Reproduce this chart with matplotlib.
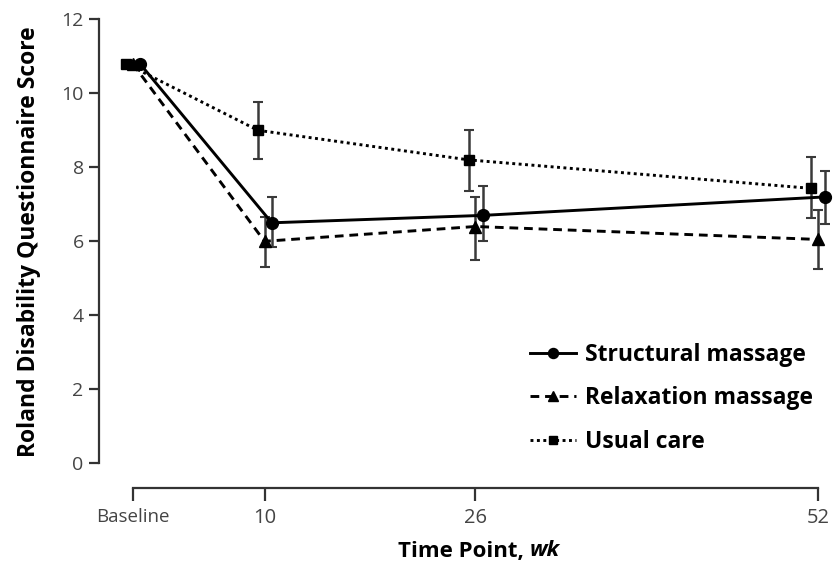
#Roland Disability Questionnaire score over time, three treatment groups.
import numpy as np
import matplotlib
matplotlib.use("Agg")
import matplotlib.pyplot as plt

#Data.
weeks = [0, 10, 26, 52]
week_labels = ["Baseline", "10", "26", "52"]

structural = [10.8, 6.5, 6.7, 7.2]
structural_low = [np.nan, 5.85, 6.0, 6.47]
structural_high = [np.nan, 7.2, 7.5, 7.9]

relaxation = [10.8, 6.0, 6.4, 6.05]
relaxation_low = [np.nan, 5.3, 5.5, 5.25]
relaxation_high = [np.nan, 6.67, 7.2, 6.85]

usual = [10.8, 9.0, 8.2, 7.43]
usual_low = [np.nan, 8.22, 7.36, 6.62]
usual_high = [np.nan, 9.77, 9.0, 8.29]

#Font setup.
plt.rcParams['font.family'] = ['Open Sans', 'DejaVu Sans']

fig = plt.figure(figsize=(8.33, 5.72), dpi=100)
ax = fig.add_axes([99/833, 1-463.3/572, 1-99/833, (463.3-19.3)/572])

#Series: values, errors, style, horizontal nudge (weeks) so bars don't overlap.
series = [
    ("Structural massage", structural, structural_low, structural_high, '-', 'o', 8.5, 0.55),
    ("Relaxation massage", relaxation, relaxation_low, relaxation_high, (0, (3, 2)), '^', 8.5, 0.0),
    ("Usual care", usual, usual_low, usual_high, (0, (1, 1.2)), 's', 7.5, -0.5),
]

for name, vals, low, high, ls, mk, ms, nudge in series:
    x = np.array(weeks, dtype=float) + nudge
    v = np.array(vals)
    lo = v - np.array(low)
    hi = np.array(high) - v
    ax.errorbar(x[1:], v[1:], yerr=[lo[1:], hi[1:]], fmt='none', ecolor='#3a3a3a',
                elinewidth=1.8, capsize=3.8, capthick=1.5, zorder=2, clip_on=False)
    ax.plot(x, v, linestyle=ls, color='black', linewidth=2.1, marker=mk, markersize=ms,
            label=name, zorder=3, clip_on=False)

#Axes limits and spines.
ax.set_ylim(0, 12)
ax.set_xlim((99-132.7)/13.18, (833-132.7)/13.18)
for side in ['top', 'right']:
    ax.spines[side].set_visible(False)
ax.spines['left'].set_bounds(0, 12)
ax.spines['bottom'].set_bounds(0, 52)
ax.spines['bottom'].set_position(('outward', 18))
for side in ['left', 'bottom']:
    ax.spines[side].set_linewidth(1.6)
    ax.spines[side].set_color('#333333')

ax.set_yticks(np.arange(0, 13, 2))
ax.set_xticks(weeks)
ax.set_xticklabels(week_labels)
ax.tick_params(axis='y', length=7, width=1.6, color='#333333', pad=4, labelsize=14, labelcolor='#444444')
ax.tick_params(axis='x', length=9, width=1.6, color='#333333', pad=5, labelsize=14.5, labelcolor='#444444')
ax.get_xticklabels()[0].set_fontsize(13.5)

ax.set_ylabel("Roland Disability Questionnaire Score", fontsize=16.5, fontweight='bold')
ax.yaxis.set_label_coords(-0.079, 0.5)

#X label with bold italic "wk".
xl = fig.text(530/833, 1-551/572, "Time Point, ", fontsize=16, fontweight='bold', ha='right', va='center')
ax.annotate("wk", xy=(1, 0), xycoords=xl, va='bottom', ha='left', fontsize=16,
            fontweight='bold', fontstyle='italic')

ax.legend(loc='upper left', bbox_to_anchor=(530/833, 1-343/572), bbox_transform=fig.transFigure,
          frameon=False, borderpad=0, borderaxespad=0, handlelength=2.0,
          handletextpad=0.4, labelspacing=0.85, numpoints=1, markerscale=0.85,
          prop={'weight': 'bold', 'size': 16.5})

fig.savefig("out.png", dpi=100)
